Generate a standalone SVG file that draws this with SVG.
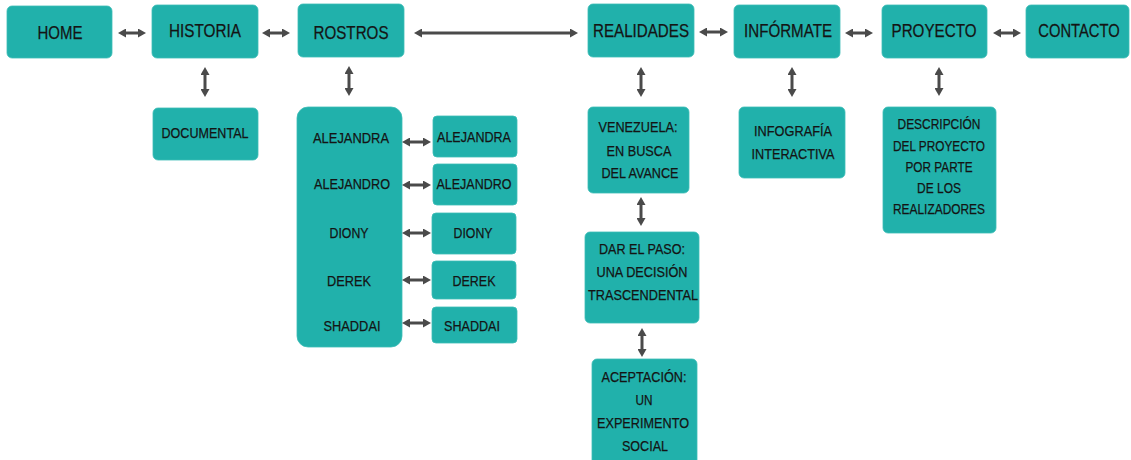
<svg xmlns="http://www.w3.org/2000/svg" width="1131" height="460" viewBox="0 0 1131 460">
<style>
.box{fill:#21b1ab;stroke:#3cbcb6;stroke-width:0.8}
text{font-family:"Liberation Sans",Arial,sans-serif;fill:#141414;stroke:#141414;stroke-width:0.25;text-anchor:middle}
.t{font-size:18px}
.s{font-size:15px}
.c line{stroke:#4a4a4a;stroke-width:3;marker-start:url(#ah);marker-end:url(#ah)}
</style>
<defs>
<marker id="ah" viewBox="0 0 8 9" refX="2" refY="4.5" markerWidth="8" markerHeight="9" markerUnits="userSpaceOnUse" orient="auto-start-reverse">
<path d="M0,0 L8,4.5 L0,9 z" fill="#4a4a4a"/>
</marker>
</defs>
<rect width="1131" height="460" fill="#ffffff"/>

<g id="home"><rect class="box" x="7" y="6" width="105" height="52" rx="5"/><text class="t" x="60" y="39" textLength="45" lengthAdjust="spacingAndGlyphs">HOME</text></g>
<g id="historia"><rect class="box" x="152" y="5" width="106" height="53" rx="5"/><text class="t" x="205" y="37" textLength="72" lengthAdjust="spacingAndGlyphs">HISTORIA</text></g>
<g id="rostros"><rect class="box" x="298" y="4" width="106" height="53" rx="5"/><text class="t" x="351" y="39" textLength="75" lengthAdjust="spacingAndGlyphs">ROSTROS</text></g>
<g id="realidades"><rect class="box" x="588" y="4" width="106" height="53" rx="5"/><text class="t" x="641" y="37" textLength="96" lengthAdjust="spacingAndGlyphs">REALIDADES</text></g>
<g id="informate"><rect class="box" x="734" y="5" width="106" height="53" rx="5"/><text class="t" x="788" y="37" textLength="88" lengthAdjust="spacingAndGlyphs">INFÓRMATE</text></g>
<g id="proyecto"><rect class="box" x="882" y="5" width="105" height="53" rx="5"/><text class="t" x="934" y="37" textLength="85" lengthAdjust="spacingAndGlyphs">PROYECTO</text></g>
<g id="contacto"><rect class="box" x="1026" y="5" width="103" height="53" rx="5"/><text class="t" transform="translate(1079,37) scale(0.82,1)" x="0" y="0">CONTACTO</text></g>

<g id="documental"><rect class="box" x="153" y="108" width="105" height="52" rx="5"/><text class="s" x="205" y="138" textLength="87" lengthAdjust="spacingAndGlyphs">DOCUMENTAL</text></g>

<g id="rostros-lista"><rect class="box" x="297" y="107" width="105" height="240" rx="11"/>
<text class="s" x="351" y="143" textLength="76" lengthAdjust="spacingAndGlyphs">ALEJANDRA</text>
<text class="s" x="352" y="189" textLength="76" lengthAdjust="spacingAndGlyphs">ALEJANDRO</text>
<text class="s" x="349" y="238" textLength="39" lengthAdjust="spacingAndGlyphs">DIONY</text>
<text class="s" x="349" y="286" textLength="44" lengthAdjust="spacingAndGlyphs">DEREK</text>
<text class="s" x="352" y="331" textLength="57" lengthAdjust="spacingAndGlyphs">SHADDAI</text>
</g>
<g id="alejandra"><rect class="box" x="433" y="116" width="84" height="41" rx="4"/><text class="s" x="474" y="142" textLength="74" lengthAdjust="spacingAndGlyphs">ALEJANDRA</text></g>
<g id="alejandro"><rect class="box" x="433" y="164" width="84" height="41" rx="4"/><text class="s" x="474" y="189" textLength="75" lengthAdjust="spacingAndGlyphs">ALEJANDRO</text></g>
<g id="diony"><rect class="box" x="432" y="213" width="84" height="41" rx="4"/><text class="s" x="473" y="238" textLength="39" lengthAdjust="spacingAndGlyphs">DIONY</text></g>
<g id="derek"><rect class="box" x="432" y="261" width="84" height="38" rx="4"/><text class="s" x="474" y="286" textLength="43" lengthAdjust="spacingAndGlyphs">DEREK</text></g>
<g id="shaddai"><rect class="box" x="432" y="307" width="85" height="36" rx="4"/><text class="s" x="472" y="331" textLength="56" lengthAdjust="spacingAndGlyphs">SHADDAI</text></g>

<g id="venezuela"><rect class="box" x="588" y="107" width="101" height="86" rx="5"/>
<text class="s" x="638" y="132" textLength="79" lengthAdjust="spacingAndGlyphs">VENEZUELA:</text>
<text class="s" x="639" y="156" textLength="65" lengthAdjust="spacingAndGlyphs">EN BUSCA</text>
<text class="s" x="640" y="178" textLength="77" lengthAdjust="spacingAndGlyphs">DEL AVANCE</text>
</g>
<g id="darelpaso"><rect class="box" x="585" y="232" width="114" height="91" rx="5"/>
<text class="s" x="642" y="254" textLength="86" lengthAdjust="spacingAndGlyphs">DAR EL PASO:</text>
<text class="s" x="642" y="277" textLength="91" lengthAdjust="spacingAndGlyphs">UNA DECISIÓN</text>
<text class="s" x="643" y="300" textLength="110" lengthAdjust="spacingAndGlyphs">TRASCENDENTAL</text>
</g>
<g id="aceptacion"><rect class="box" x="592" y="359" width="105" height="110" rx="5"/>
<text class="s" x="644" y="382" textLength="85" lengthAdjust="spacingAndGlyphs">ACEPTACIÓN:</text>
<text class="s" x="644" y="405" textLength="17" lengthAdjust="spacingAndGlyphs">UN</text>
<text class="s" x="643" y="428" textLength="92" lengthAdjust="spacingAndGlyphs">EXPERIMENTO</text>
<text class="s" x="645" y="451" textLength="46" lengthAdjust="spacingAndGlyphs">SOCIAL</text>
</g>
<g id="infografia"><rect class="box" x="739" y="107" width="106" height="71" rx="5"/>
<text class="s" x="793" y="136" textLength="78" lengthAdjust="spacingAndGlyphs">INFOGRAFÍA</text>
<text class="s" x="793" y="159" textLength="83" lengthAdjust="spacingAndGlyphs">INTERACTIVA</text>
</g>
<g id="descripcion"><rect class="box" x="883" y="107" width="113" height="126" rx="5"/>
<text class="s" x="939" y="129" textLength="83" lengthAdjust="spacingAndGlyphs">DESCRIPCIÓN</text>
<text class="s" x="939" y="151" textLength="92" lengthAdjust="spacingAndGlyphs">DEL PROYECTO</text>
<text class="s" x="939" y="172" textLength="67" lengthAdjust="spacingAndGlyphs">POR PARTE</text>
<text class="s" x="939" y="193" textLength="44" lengthAdjust="spacingAndGlyphs">DE LOS</text>
<text class="s" x="939" y="214" textLength="92" lengthAdjust="spacingAndGlyphs">REALIZADORES</text>
</g>

<g id="connectors" class="c">
<line x1="124" y1="33" x2="140" y2="33"/>
<line x1="268" y1="33" x2="284" y2="33"/>
<line x1="420" y1="33" x2="572" y2="33"/>
<line x1="705" y1="32" x2="722" y2="32"/>
<line x1="851" y1="33" x2="867" y2="33"/>
<line x1="999" y1="33" x2="1015" y2="33"/>
<line x1="205" y1="73" x2="205" y2="91"/>
<line x1="349" y1="72" x2="349" y2="90"/>
<line x1="641" y1="73" x2="641" y2="91"/>
<line x1="792" y1="73" x2="792" y2="91"/>
<line x1="939" y1="73" x2="939" y2="90"/>
<line x1="641" y1="203" x2="641" y2="220"/>
<line x1="642" y1="334" x2="642" y2="351"/>
<line x1="408" y1="142" x2="425" y2="142"/>
<line x1="408" y1="185" x2="425" y2="185"/>
<line x1="408" y1="233" x2="425" y2="233"/>
<line x1="408" y1="280" x2="425" y2="280"/>
<line x1="408" y1="323" x2="425" y2="323"/>
</g>
</svg>
